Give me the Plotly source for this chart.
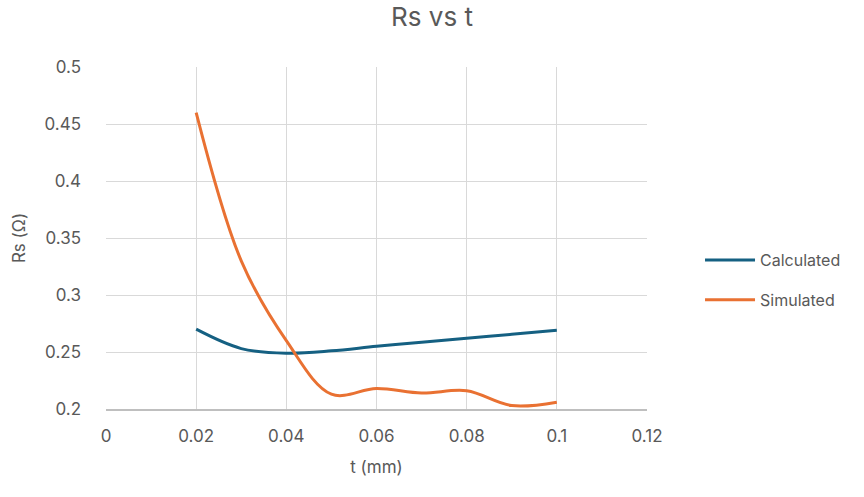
import plotly.graph_objects as go

t_mm = [0.02, 0.03, 0.04, 0.05, 0.06, 0.07, 0.08, 0.09, 0.1]
calculated = [0.27, 0.253, 0.249, 0.251, 0.255, 0.2585, 0.262, 0.2655, 0.269]
simulated = [0.46, 0.33, 0.26, 0.213, 0.218, 0.214, 0.216, 0.203, 0.206]

FONT = "Inter, Roboto, Liberation Sans, sans-serif"
TXT = "#595959"

fig = go.Figure()
fig.add_trace(go.Scatter(x=t_mm, y=calculated, name="Calculated", mode="lines",
                         line=dict(color="#156082", width=3, shape="spline", smoothing=1.0),
                         legendgroup="a"))
fig.add_trace(go.Scatter(x=t_mm, y=simulated, name="Simulated", mode="lines",
                         line=dict(color="#E97132", width=3, shape="spline", smoothing=1.0),
                         legendgroup="b"))

fig.update_layout(
    width=864, height=497,
    margin=dict(l=106, r=217, t=67, b=88),
    paper_bgcolor="white", plot_bgcolor="white",
    font=dict(family=FONT, color=TXT, size=17),
    title=dict(text="Rs vs t", x=0.5, xanchor="center", xref="container",
               y=1 - 17 / 497, yref="container", yanchor="middle",
               font=dict(size=26, color=TXT, family=FONT)),
    legend=dict(x=1.098, xanchor="left", y=0.377, yanchor="middle", tracegroupgap=16,
                itemwidth=50,
                font=dict(size=16, color=TXT, family=FONT), bgcolor="rgba(0,0,0,0)"),
    showlegend=True,
)
fig.update_xaxes(range=[0, 0.12], dtick=0.02, tick0=0, showgrid=True, gridcolor="#d9d9d9", gridwidth=1.4,
                 zeroline=False, showline=True, linecolor="#bfbfbf", linewidth=1.5,
                 ticks="", ticklabelstandoff=11,
                 title=dict(text="t (mm)", standoff=16, font=dict(size=17, color=TXT)),
                 tickformat="~g", tickfont=dict(size=17))
fig.update_yaxes(range=[0.2, 0.5], dtick=0.05, tick0=0.2, showgrid=True, gridcolor="#d9d9d9", gridwidth=1.4,
                 zeroline=False, showline=False, ticks="", ticklabelstandoff=24,
                 title=dict(text="Rs (Ω)", standoff=14, font=dict(size=17, color=TXT)),
                 tickformat="~g", tickfont=dict(size=17))

fig.write_html("out.html")
